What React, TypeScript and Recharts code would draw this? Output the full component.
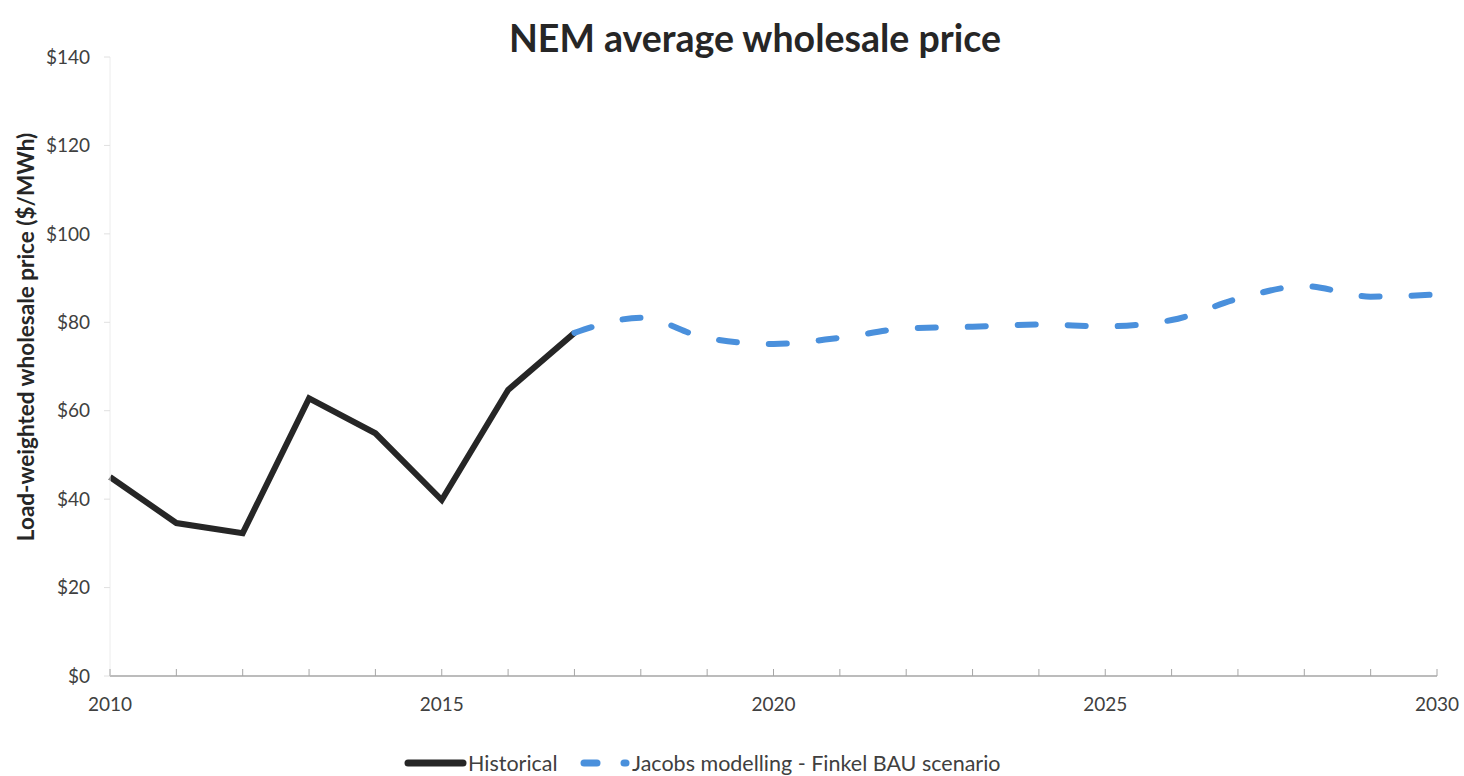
import { LineChart, Line, XAxis, YAxis } from 'recharts';

// values ($/MWh)
const years = [2010, 2011, 2012, 2013, 2014, 2015, 2016, 2017, 2018, 2019, 2020, 2021, 2022, 2023, 2024, 2025, 2026, 2027, 2028, 2029, 2030];
const historical = [45, 34.6, 32.3, 62.8, 54.9, 39.8, 64.7, 77.6, null, null, null, null, null, null, null, null, null, null, null, null, null];
const jacobs = [null, null, null, null, null, null, null, 77.6, 81, 76.4, 75.1, 76.5, 78.6, 79, 79.5, 79.1, 80.5, 85.3, 88.2, 85.8, 86.3];
const priceTicks = [0, 20, 40, 60, 80, 100, 120, 140];

const data = years.map((year, i) => ({ year, historical: historical[i], jacobs: jacobs[i] }));

const FONT = 'Lato, "Open Sans", sans-serif';
const BLUE = '#4a90dc';
const DARK = '#262626';

const YearTick = (props: any) => {
  const { x, y, payload } = props;
  const v = payload.value as number;
  return (
    <g>
      <line x1={x} x2={x} y1={y} y2={y - 7} stroke="#a6a6a6" strokeWidth={1} />
      {v % 5 === 0 && (
        <text x={x} y={y + 35} textAnchor="middle" fontSize={19} fill="#404040" fontFamily={FONT}>
          {v}
        </text>
      )}
    </g>
  );
};

const AxisTitle = () => (
  <text
    x={34}
    y={337}
    transform="rotate(-90 34 337)"
    textAnchor="middle"
    fontSize={22.5}
    fontWeight={700}
    fill="#262626"
    fontFamily={FONT}
  >
    Load-weighted wholesale price ($/MWh)
  </text>
);

export default function App() {
  return (
    <div style={{ position: 'absolute', left: 0, top: 0, width: 1464, height: 776, background: '#fff', fontFamily: FONT }}>
      <div
        style={{
          position: 'absolute',
          left: 405,
          width: 700,
          top: 15,
          textAlign: 'center',
          fontSize: 37.5,
          fontWeight: 700,
          color: '#262626',
        }}
      >
        NEM average wholesale price
      </div>
      <LineChart width={1464} height={776} data={data} margin={{ top: 57, right: 27, bottom: 60, left: 0 }}>
        <XAxis
          dataKey="year"
          type="number"
          domain={[2010, 2030]}
          ticks={years}
          interval={0}
          height={40}
          tickSize={0}
          tickMargin={0}
          tickLine={false}
          axisLine={{ stroke: '#a6a6a6', strokeWidth: 1.5 }}
          tick={<YearTick />}
        />
        <YAxis
          width={110}
          domain={[0, 140]}
          ticks={priceTicks}
          interval={0}
          tickFormatter={(v: number) => '$' + v}
          tickSize={6}
          tickMargin={14}
          axisLine={{ stroke: '#ececec' }}
          tickLine={{ stroke: '#e0e0e0' }}
          tick={{ fontSize: 19, fill: '#404040', fontFamily: FONT }}
          label={{ content: () => <AxisTitle /> }}
        />
        <Line
          dataKey="historical"
          type="linear"
          stroke={DARK}
          strokeWidth={6}
          dot={false}
          activeDot={false}
          connectNulls={false}
          isAnimationActive={false}
        />
        <Line
          dataKey="jacobs"
          type="monotone"
          stroke={BLUE}
          strokeWidth={6}
          strokeDasharray="18 32"
          strokeLinecap="round"
          dot={false}
          activeDot={false}
          connectNulls={false}
          isAnimationActive={false}
        />
      </LineChart>
      <svg width={1464} height={40} style={{ position: 'absolute', left: 0, top: 744 }}>
        <line x1={408} x2={463} y1={19} y2={19} stroke={DARK} strokeWidth={7} strokeLinecap="round" />
        <text x={468} y={27} fontSize={21.5} fill="#404040" fontFamily={FONT}>
          Historical
        </text>
        <line x1={584} x2={597} y1={19} y2={19} stroke={BLUE} strokeWidth={7} strokeLinecap="round" />
        <line x1={624} x2={626} y1={19} y2={19} stroke={BLUE} strokeWidth={7} strokeLinecap="round" />
        <text x={632} y={27} fontSize={21.5} fill="#404040" fontFamily={FONT}>
          Jacobs modelling - Finkel BAU scenario
        </text>
      </svg>
    </div>
  );
}
